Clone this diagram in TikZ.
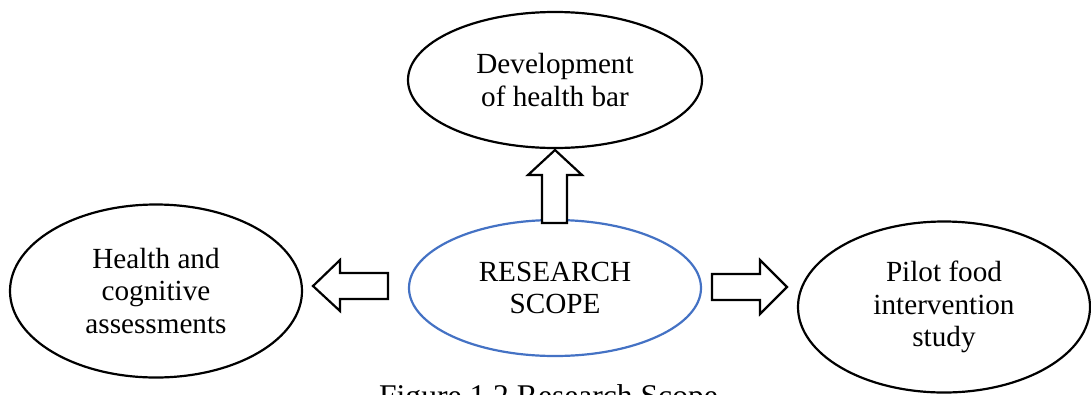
\documentclass[tikz,border=0pt]{standalone}
\usepackage{fontspec}
\setmainfont{Liberation Serif}
\usetikzlibrary{shapes.geometric}
\definecolor{scopeblue}{HTML}{4472C4}
\tikzset{
  bubble/.style={draw=black, line width=2.2pt, ellipse, inner sep=0pt, align=center,
    font=\fontsize{29.2}{32.5}\selectfont},
  scopebubble/.style={bubble, draw=scopeblue},
  blockarrow/.style={draw=black, fill=white, line width=2.2pt, line join=miter},
}
\begin{document}
\begin{tikzpicture}[x=1pt,y=-1pt]
\useasboundingbox (0,0) rectangle (1091,394);
\node[bubble, minimum width=294pt, minimum height=136pt] (dev) at (555,80) {Development\\of health bar};
\node[scopebubble, minimum width=292pt, minimum height=136pt] (scope) at (555,288) {RESEARCH\\SCOPE};
\node[bubble, minimum width=292pt, minimum height=173pt] (health) at (156,291) {Health and\\cognitive\\assessments};
\node[bubble, minimum width=292pt, minimum height=171pt] (pilot) at (944,307) {Pilot food\\intervention\\study};
% up block arrow
\draw[blockarrow] (542,223) -- (542,175) -- (528,175) -- (555,150) -- (582,175) -- (567,175) -- (567,223) -- cycle;
% left block arrow
\draw[blockarrow] (388,273) -- (340,273) -- (340,260) -- (313,286) -- (340,311) -- (340,299) -- (388,299) -- cycle;
% right block arrow
\draw[blockarrow] (712,274) -- (760,274) -- (760,260) -- (787,287) -- (760,314) -- (760,300) -- (712,300) -- cycle;
\node[anchor=base, inner sep=0pt, font=\fontsize{31.6}{36}\selectfont] (cap) at (548.5,406) {Figure 1.2 Research Scope};
\end{tikzpicture}
\end{document}
